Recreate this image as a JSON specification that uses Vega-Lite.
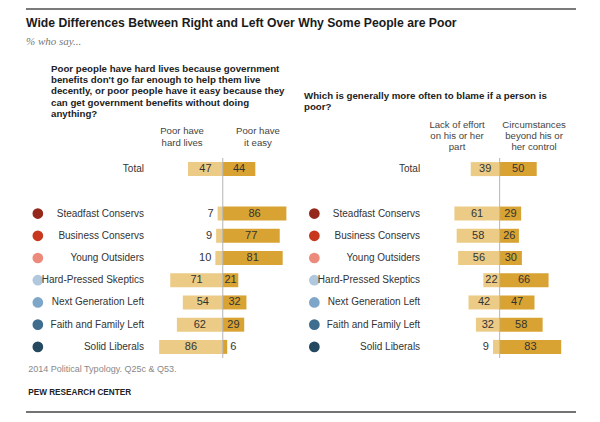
{
  "$schema": "https://vega.github.io/schema/vega-lite/v6.json",
  "padding": {"left": 25, "top": 8, "right": 0, "bottom": 0},
  "autosize": {"type": "pad"},
  "background": "white",
  "config": {
    "view": {"stroke": null},
    "font": "Liberation Sans, Arial, sans-serif"
  },
  "datasets": {
    "poverty": [
      {"group": "Total", "hard": 47, "easy": 44},
      {"group": "Steadfast Conservs", "hard": 7, "easy": 86},
      {"group": "Business Conservs", "hard": 9, "easy": 77},
      {"group": "Young Outsiders", "hard": 10, "easy": 81},
      {"group": "Hard-Pressed Skeptics", "hard": 71, "easy": 21},
      {"group": "Next Generation Left", "hard": 54, "easy": 32},
      {"group": "Faith and Family Left", "hard": 62, "easy": 29},
      {"group": "Solid Liberals", "hard": 86, "easy": 6}
    ],
    "blame": [
      {"group": "Total", "effort": 39, "circ": 50},
      {"group": "Steadfast Conservs", "effort": 61, "circ": 29},
      {"group": "Business Conservs", "effort": 58, "circ": 26},
      {"group": "Young Outsiders", "effort": 56, "circ": 30},
      {"group": "Hard-Pressed Skeptics", "effort": 22, "circ": 66},
      {"group": "Next Generation Left", "effort": 42, "circ": 47},
      {"group": "Faith and Family Left", "effort": 32, "circ": 58},
      {"group": "Solid Liberals", "effort": 9, "circ": 83}
    ]
  },
  "spacing": 6,
  "vconcat": [
    {
      "width": 550, "height": 1,
      "data": {"values": [{}]},
      "mark": {"type": "rule", "color": "#7a7a7a", "strokeWidth": 2},
      "encoding": {"y": {"datum": 0, "type": "quantitative", "scale": {"domain": [0, 1]}, "axis": null}}
    },
    {
      "title": {
        "text": "Wide Differences Between Right and Left Over Why Some People are Poor",
        "subtitle": "% who say...",
        "anchor": "start",
        "fontSize": 12.2, "fontWeight": "bold", "color": "#1a1a1a",
        "subtitleFont": "Liberation Serif", "subtitleFontStyle": "italic", "subtitleFontSize": 11, "subtitleColor": "#777",
        "subtitlePadding": 7, "offset": 17
      },
      "spacing": 5,
      "hconcat": [
        {
          "width": 270, "height": 200,
          "data": {"name": "poverty"},
          "title": {
            "text": ["Poor people have hard lives because government", "benefits don't go far enough to help them live", "decently, or poor people have it easy because they", "can get government benefits without doing", "anything?"],
            "anchor": "start", "dx": 25, "fontSize": 9.7, "fontWeight": "bold", "color": "#222", "lineHeight": 11.3, "offset": 7
          },
          "resolve": {"scale": {"x": "independent"}},
          "layer": [
            {
              "mark": {"type": "bar", "color": "#EBCB85"},
              "encoding": {
                "x": {"field": "hard", "type": "quantitative", "scale": {"domain": [-99, 266], "reverse": true, "nice": false, "zero": false}, "axis": null},
                "x2": {"datum": 0},
                "y": {"field": "group", "type": "nominal", "scale": {"domain": ["Total", "_gap", "Steadfast Conservs", "Business Conservs", "Young Outsiders", "Hard-Pressed Skeptics", "Next Generation Left", "Faith and Family Left", "Solid Liberals"], "paddingInner": 0.37, "paddingOuter": 0.185}, "axis": null}
              }
            },
            {
              "mark": {"type": "bar", "color": "#D8A332"},
              "encoding": {
                "x": {"field": "easy", "type": "quantitative", "scale": {"domain": [-266, 99], "nice": false, "zero": false}, "axis": null},
                "x2": {"datum": 0},
                "y": {"field": "group", "type": "nominal", "scale": {"domain": ["Total", "_gap", "Steadfast Conservs", "Business Conservs", "Young Outsiders", "Hard-Pressed Skeptics", "Next Generation Left", "Faith and Family Left", "Solid Liberals"], "paddingInner": 0.37, "paddingOuter": 0.185}, "axis": null}
              }
            },
            {
              "data": {"values": [{}]},
              "mark": {"type": "rule", "color": "#b5b5b5", "strokeWidth": 1},
              "encoding": {
                "x": {"datum": 0, "type": "quantitative", "scale": {"domain": [-266, 99], "nice": false, "zero": false}, "axis": null}
              }
            },
            {
              "transform": [{"filter": "datum.hard >= 15"}],
              "mark": {"type": "text", "align": "center", "baseline": "middle", "fontSize": 11, "color": "#333"},
              "encoding": {
                "x": {"field": "hard", "type": "quantitative", "scale": {"domain": [-198, 532], "reverse": true, "nice": false, "zero": false}, "axis": null},
                "y": {"field": "group", "type": "nominal", "scale": {"domain": ["Total", "_gap", "Steadfast Conservs", "Business Conservs", "Young Outsiders", "Hard-Pressed Skeptics", "Next Generation Left", "Faith and Family Left", "Solid Liberals"], "paddingInner": 0.37, "paddingOuter": 0.185}, "axis": null},
                "text": {"field": "hard"}
              }
            },
            {
              "transform": [{"filter": "datum.hard < 15"}],
              "mark": {"type": "text", "align": "right", "baseline": "middle", "fontSize": 11, "color": "#333", "dx": -4},
              "encoding": {
                "x": {"field": "hard", "type": "quantitative", "scale": {"domain": [-99, 266], "reverse": true, "nice": false, "zero": false}, "axis": null},
                "y": {"field": "group", "type": "nominal", "scale": {"domain": ["Total", "_gap", "Steadfast Conservs", "Business Conservs", "Young Outsiders", "Hard-Pressed Skeptics", "Next Generation Left", "Faith and Family Left", "Solid Liberals"], "paddingInner": 0.37, "paddingOuter": 0.185}, "axis": null},
                "text": {"field": "hard"}
              }
            },
            {
              "transform": [{"filter": "datum.easy >= 15"}],
              "mark": {"type": "text", "align": "center", "baseline": "middle", "fontSize": 11, "color": "#333"},
              "encoding": {
                "x": {"field": "easy", "type": "quantitative", "scale": {"domain": [-532, 198], "nice": false, "zero": false}, "axis": null},
                "y": {"field": "group", "type": "nominal", "scale": {"domain": ["Total", "_gap", "Steadfast Conservs", "Business Conservs", "Young Outsiders", "Hard-Pressed Skeptics", "Next Generation Left", "Faith and Family Left", "Solid Liberals"], "paddingInner": 0.37, "paddingOuter": 0.185}, "axis": null},
                "text": {"field": "easy"}
              }
            },
            {
              "transform": [{"filter": "datum.easy < 15"}],
              "mark": {"type": "text", "align": "left", "baseline": "middle", "fontSize": 11, "color": "#333", "dx": 3},
              "encoding": {
                "x": {"field": "easy", "type": "quantitative", "scale": {"domain": [-266, 99], "nice": false, "zero": false}, "axis": null},
                "y": {"field": "group", "type": "nominal", "scale": {"domain": ["Total", "_gap", "Steadfast Conservs", "Business Conservs", "Young Outsiders", "Hard-Pressed Skeptics", "Next Generation Left", "Faith and Family Left", "Solid Liberals"], "paddingInner": 0.37, "paddingOuter": 0.185}, "axis": null},
                "text": {"field": "easy"}
              }
            },
            {
              "transform": [{"filter": "datum.group !== 'Total'"}],
              "mark": {"type": "circle", "size": 115, "opacity": 1},
              "encoding": {
                "x": {"datum": -250, "type": "quantitative", "scale": {"domain": [-266, 99], "nice": false, "zero": false}, "axis": null},
                "y": {"field": "group", "type": "nominal", "scale": {"domain": ["Total", "_gap", "Steadfast Conservs", "Business Conservs", "Young Outsiders", "Hard-Pressed Skeptics", "Next Generation Left", "Faith and Family Left", "Solid Liberals"], "paddingInner": 0.37, "paddingOuter": 0.185}, "axis": null},
                "color": {"field": "group", "type": "nominal", "scale": {"domain": ["Steadfast Conservs", "Business Conservs", "Young Outsiders", "Hard-Pressed Skeptics", "Next Generation Left", "Faith and Family Left", "Solid Liberals"], "range": ["#96281B", "#C8381E", "#EC8A7C", "#AFC8DD", "#7DA6C8", "#3E6D8E", "#254A60"]}, "legend": null}
              }
            },
            {
              "mark": {"type": "text", "align": "right", "baseline": "middle", "fontSize": 10, "color": "#333"},
              "encoding": {
                "x": {"datum": -106.5, "type": "quantitative", "scale": {"domain": [-266, 99], "nice": false, "zero": false}, "axis": null},
                "y": {"field": "group", "type": "nominal", "scale": {"domain": ["Total", "_gap", "Steadfast Conservs", "Business Conservs", "Young Outsiders", "Hard-Pressed Skeptics", "Next Generation Left", "Faith and Family Left", "Solid Liberals"], "paddingInner": 0.37, "paddingOuter": 0.185}, "axis": null},
                "text": {"field": "group"}
              }
            },
            {
              "data": {"values": [{}]},
              "mark": {"type": "text", "align": "center", "baseline": "top", "fontSize": 9.6, "color": "#444", "lineHeight": 12, "dy": -43.5},
              "encoding": {
                "x": {"datum": -55, "type": "quantitative", "scale": {"domain": [-266, 99], "nice": false, "zero": false}, "axis": null},
                "y": {"datum": "Total", "type": "nominal", "scale": {"domain": ["Total", "_gap", "Steadfast Conservs", "Business Conservs", "Young Outsiders", "Hard-Pressed Skeptics", "Next Generation Left", "Faith and Family Left", "Solid Liberals"], "paddingInner": 0.37, "paddingOuter": 0.185}, "axis": null},
                "text": {"value": ["Poor have", "hard lives"]}
              }
            },
            {
              "data": {"values": [{}]},
              "mark": {"type": "text", "align": "center", "baseline": "top", "fontSize": 9.6, "color": "#444", "lineHeight": 12, "dy": -43.5},
              "encoding": {
                "x": {"datum": 47.6, "type": "quantitative", "scale": {"domain": [-266, 99], "nice": false, "zero": false}, "axis": null},
                "y": {"datum": "Total", "type": "nominal", "scale": {"domain": ["Total", "_gap", "Steadfast Conservs", "Business Conservs", "Young Outsiders", "Hard-Pressed Skeptics", "Next Generation Left", "Faith and Family Left", "Solid Liberals"], "paddingInner": 0.37, "paddingOuter": 0.185}, "axis": null},
                "text": {"value": ["Poor have", "it easy"]}
              }
            }
          ]
        },
        {
          "width": 275, "height": 200,
          "data": {"name": "blame"},
          "title": {
            "text": ["Which is generally more often to blame if a person is", "poor?"],
            "anchor": "start", "dx": 3, "fontSize": 9.7, "fontWeight": "bold", "color": "#222", "lineHeight": 11, "offset": 7.5
          },
          "resolve": {"scale": {"x": "independent"}},
          "layer": [
            {
              "mark": {"type": "bar", "color": "#EBCB85"},
              "encoding": {
                "x": {"field": "effort", "type": "quantitative", "scale": {"domain": [-103, 268], "reverse": true, "nice": false, "zero": false}, "axis": null},
                "x2": {"datum": 0},
                "y": {"field": "group", "type": "nominal", "scale": {"domain": ["Total", "_gap", "Steadfast Conservs", "Business Conservs", "Young Outsiders", "Hard-Pressed Skeptics", "Next Generation Left", "Faith and Family Left", "Solid Liberals"], "paddingInner": 0.37, "paddingOuter": 0.185}, "axis": null}
              }
            },
            {
              "mark": {"type": "bar", "color": "#D8A332"},
              "encoding": {
                "x": {"field": "circ", "type": "quantitative", "scale": {"domain": [-268, 103], "nice": false, "zero": false}, "axis": null},
                "x2": {"datum": 0},
                "y": {"field": "group", "type": "nominal", "scale": {"domain": ["Total", "_gap", "Steadfast Conservs", "Business Conservs", "Young Outsiders", "Hard-Pressed Skeptics", "Next Generation Left", "Faith and Family Left", "Solid Liberals"], "paddingInner": 0.37, "paddingOuter": 0.185}, "axis": null}
              }
            },
            {
              "data": {"values": [{}]},
              "mark": {"type": "rule", "color": "#b5b5b5", "strokeWidth": 1},
              "encoding": {
                "x": {"datum": 0, "type": "quantitative", "scale": {"domain": [-268, 103], "nice": false, "zero": false}, "axis": null}
              }
            },
            {
              "transform": [{"filter": "datum.effort >= 15"}],
              "mark": {"type": "text", "align": "center", "baseline": "middle", "fontSize": 11, "color": "#333"},
              "encoding": {
                "x": {"field": "effort", "type": "quantitative", "scale": {"domain": [-206, 536], "reverse": true, "nice": false, "zero": false}, "axis": null},
                "y": {"field": "group", "type": "nominal", "scale": {"domain": ["Total", "_gap", "Steadfast Conservs", "Business Conservs", "Young Outsiders", "Hard-Pressed Skeptics", "Next Generation Left", "Faith and Family Left", "Solid Liberals"], "paddingInner": 0.37, "paddingOuter": 0.185}, "axis": null},
                "text": {"field": "effort"}
              }
            },
            {
              "transform": [{"filter": "datum.effort < 15"}],
              "mark": {"type": "text", "align": "right", "baseline": "middle", "fontSize": 11, "color": "#333", "dx": -4},
              "encoding": {
                "x": {"field": "effort", "type": "quantitative", "scale": {"domain": [-103, 268], "reverse": true, "nice": false, "zero": false}, "axis": null},
                "y": {"field": "group", "type": "nominal", "scale": {"domain": ["Total", "_gap", "Steadfast Conservs", "Business Conservs", "Young Outsiders", "Hard-Pressed Skeptics", "Next Generation Left", "Faith and Family Left", "Solid Liberals"], "paddingInner": 0.37, "paddingOuter": 0.185}, "axis": null},
                "text": {"field": "effort"}
              }
            },
            {
              "transform": [{"filter": "datum.circ >= 15"}],
              "mark": {"type": "text", "align": "center", "baseline": "middle", "fontSize": 11, "color": "#333"},
              "encoding": {
                "x": {"field": "circ", "type": "quantitative", "scale": {"domain": [-536, 206], "nice": false, "zero": false}, "axis": null},
                "y": {"field": "group", "type": "nominal", "scale": {"domain": ["Total", "_gap", "Steadfast Conservs", "Business Conservs", "Young Outsiders", "Hard-Pressed Skeptics", "Next Generation Left", "Faith and Family Left", "Solid Liberals"], "paddingInner": 0.37, "paddingOuter": 0.185}, "axis": null},
                "text": {"field": "circ"}
              }
            },
            {
              "transform": [{"filter": "datum.group !== 'Total'"}],
              "mark": {"type": "circle", "size": 115, "opacity": 1},
              "encoding": {
                "x": {"datum": -250, "type": "quantitative", "scale": {"domain": [-268, 103], "nice": false, "zero": false}, "axis": null},
                "y": {"field": "group", "type": "nominal", "scale": {"domain": ["Total", "_gap", "Steadfast Conservs", "Business Conservs", "Young Outsiders", "Hard-Pressed Skeptics", "Next Generation Left", "Faith and Family Left", "Solid Liberals"], "paddingInner": 0.37, "paddingOuter": 0.185}, "axis": null},
                "color": {"field": "group", "type": "nominal", "scale": {"domain": ["Steadfast Conservs", "Business Conservs", "Young Outsiders", "Hard-Pressed Skeptics", "Next Generation Left", "Faith and Family Left", "Solid Liberals"], "range": ["#96281B", "#C8381E", "#EC8A7C", "#AFC8DD", "#7DA6C8", "#3E6D8E", "#254A60"]}, "legend": null}
              }
            },
            {
              "mark": {"type": "text", "align": "right", "baseline": "middle", "fontSize": 10, "color": "#333"},
              "encoding": {
                "x": {"datum": -107.3, "type": "quantitative", "scale": {"domain": [-268, 103], "nice": false, "zero": false}, "axis": null},
                "y": {"field": "group", "type": "nominal", "scale": {"domain": ["Total", "_gap", "Steadfast Conservs", "Business Conservs", "Young Outsiders", "Hard-Pressed Skeptics", "Next Generation Left", "Faith and Family Left", "Solid Liberals"], "paddingInner": 0.37, "paddingOuter": 0.185}, "axis": null},
                "text": {"field": "group"}
              }
            },
            {
              "data": {"values": [{}]},
              "mark": {"type": "text", "align": "center", "baseline": "top", "fontSize": 9.6, "color": "#444", "lineHeight": 11, "dy": -49.5},
              "encoding": {
                "x": {"datum": -57.5, "type": "quantitative", "scale": {"domain": [-268, 103], "nice": false, "zero": false}, "axis": null},
                "y": {"datum": "Total", "type": "nominal", "scale": {"domain": ["Total", "_gap", "Steadfast Conservs", "Business Conservs", "Young Outsiders", "Hard-Pressed Skeptics", "Next Generation Left", "Faith and Family Left", "Solid Liberals"], "paddingInner": 0.37, "paddingOuter": 0.185}, "axis": null},
                "text": {"value": ["Lack of effort", "on his or her", "part"]}
              }
            },
            {
              "data": {"values": [{}]},
              "mark": {"type": "text", "align": "center", "baseline": "top", "fontSize": 9.6, "color": "#444", "lineHeight": 11, "dy": -49.5},
              "encoding": {
                "x": {"datum": 46.4, "type": "quantitative", "scale": {"domain": [-268, 103], "nice": false, "zero": false}, "axis": null},
                "y": {"datum": "Total", "type": "nominal", "scale": {"domain": ["Total", "_gap", "Steadfast Conservs", "Business Conservs", "Young Outsiders", "Hard-Pressed Skeptics", "Next Generation Left", "Faith and Family Left", "Solid Liberals"], "paddingInner": 0.37, "paddingOuter": 0.185}, "axis": null},
                "text": {"value": ["Circumstances", "beyond his or", "her control"]}
              }
            }
          ]
        }
      ]
    },
    {
      "title": {
        "text": "2014 Political Typology. Q25c & Q53.",
        "subtitle": "PEW RESEARCH CENTER",
        "anchor": "start", "dx": 3,
        "fontSize": 9, "fontWeight": "normal", "color": "#888",
        "subtitleFontSize": 8.2, "subtitleFontWeight": "bold", "subtitleColor": "#222",
        "subtitlePadding": 14.5, "offset": 15
      },
      "width": 550, "height": 1,
      "data": {"values": [{}]},
      "mark": {"type": "rule", "color": "#444", "strokeWidth": 1.5},
      "encoding": {"y": {"datum": 0, "type": "quantitative", "scale": {"domain": [0, 1]}, "axis": null}}
    }
  ]
}
